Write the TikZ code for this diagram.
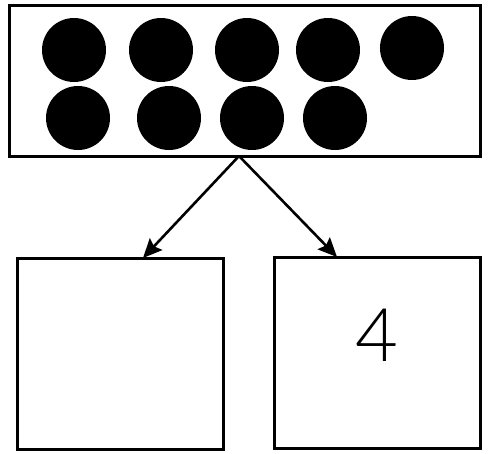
\documentclass[tikz,border=0pt]{standalone}
\usepackage{fontspec}
\setmainfont{Liberation Sans}
\newfontfamily\digitfont{Lato Light}
\usetikzlibrary{arrows.meta}
\tikzset{
  box/.style={draw,line width=3pt,minimum width=206pt,minimum height=191pt,inner sep=0pt},
  dot/.style={circle,fill=black,minimum size=64pt,inner sep=0pt},
  link/.style={line width=2.6pt,-{Stealth[length=19pt,width=17pt,inset=3pt]}}
}
\begin{document}
\begin{tikzpicture}[x=1pt,y=-1pt]
\useasboundingbox (0,0) rectangle (494,453);
\node[box,minimum width=471pt,minimum height=151pt] (tray) at (244.5,80.5) {};
\foreach \x/\y [count=\i] in {74/50,161/50,247/50,328/50,412/48,78/118,169/118,252/118,335/118}
  \node[dot] (dot\i) at (\x,\y) {};
\node[box] (left) at (120,353.5) {};
\node[box] (right) at (377,352.5) {};
\node[font=\digitfont\fontsize{74}{74}\selectfont,inner sep=0pt] (four) at (377,335) {4};
\coordinate (apex) at (239,156);
\coordinate (lefttip) at (143,258);
\coordinate (righttip) at (337,257);
\draw[link] (apex) -- (lefttip);
\draw[link] (apex) -- (righttip);
\end{tikzpicture}
\end{document}
